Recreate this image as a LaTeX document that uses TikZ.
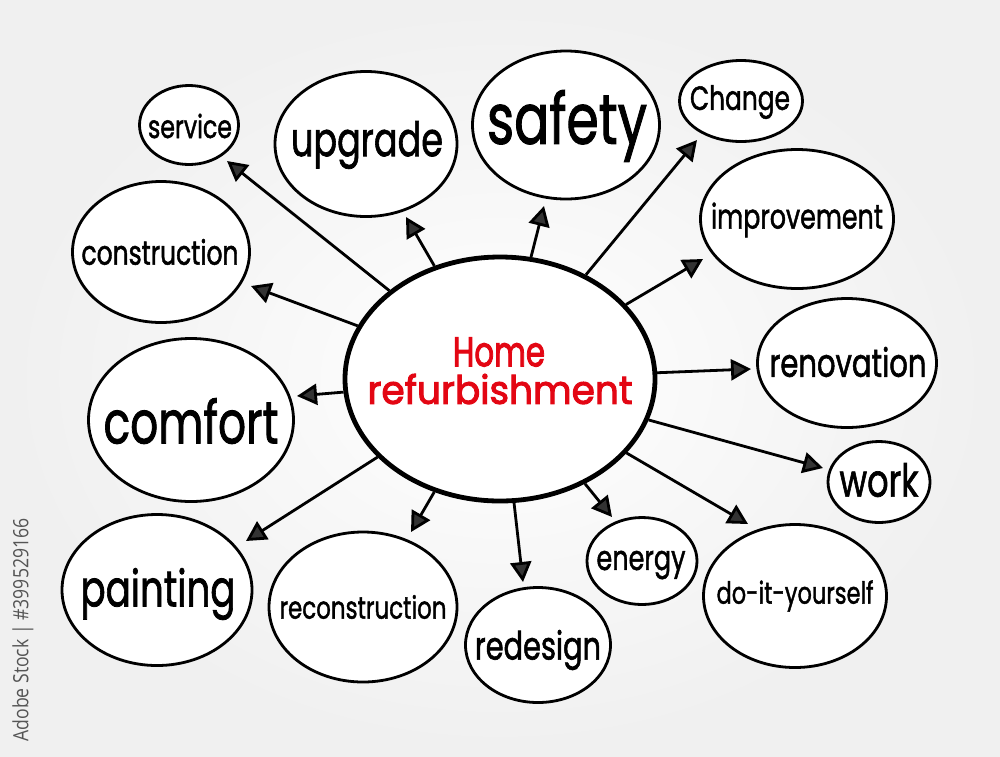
\documentclass[tikz,border=0pt]{standalone}
\usepackage{fontspec}
\usepackage{graphicx}
\setmainfont{Poppins}[FakeBold=1.6]
\newfontfamily\hubfont{Poppins}[FakeBold=2.6]
\newfontfamily\wmfont{Open Sans}
\usetikzlibrary{shapes.geometric,arrows.meta}
\newcommand{\fitw}[2]{\resizebox{#1pt}{!}{\scalebox{1}[1.35]{#2}}}
\newcommand{\fitwh}[3]{\resizebox{#1pt}{#2pt}{#3}}
\definecolor{hubred}{HTML}{E30613}
\definecolor{wmgray}{HTML}{555555}
\begin{document}
\begin{tikzpicture}[x=1pt,y=-1pt,
  bub/.style={ellipse, draw=black, line width=2.8pt, fill=white, inner sep=0pt},
  hub/.style={ellipse, draw=black, line width=4.8pt, fill=white, inner sep=0pt},
  word/.style={inner sep=0pt, text=black, anchor=center},
  hubword/.style={inner sep=0pt, text=hubred, anchor=center, font=\hubfont},
  link/.style={line width=2.8pt, draw=black, -{Triangle[length=20pt,width=21pt,fill=black!80]}}
]
\useasboundingbox (0,0) rectangle (1000,756);
\shade[inner color=white, outer color=black!6] (0,0) rectangle (1000,756);

% hub
\node[hub, minimum width=310pt, minimum height=244pt] (hub) at (500,379) {};
\node[hubword] (hubHome) at (499,352) {\fitwh{92}{29}{Home}};
\node[hubword] (hubRefurb) at (500,389) {\fitwh{265}{30}{refurbishment}};

% satellite bubbles
\node[bub, minimum width=99pt,  minimum height=79pt]  (service) at (189,125) {};
\node[bub, minimum width=182pt, minimum height=145pt] (upgrade) at (366,144) {};
\node[bub, minimum width=187pt, minimum height=148pt] (safety) at (566,125) {};
\node[bub, minimum width=123pt, minimum height=81pt]  (change) at (741,101) {};
\node[bub, minimum width=193pt, minimum height=139pt] (improvement) at (797,219) {};
\node[bub, minimum width=177pt, minimum height=141pt] (construction) at (161,252) {};
\node[bub, minimum width=179pt, minimum height=129pt] (renovation) at (847,363) {};
\node[bub, minimum width=205pt, minimum height=163pt] (comfort) at (191,420) {};
\node[bub, minimum width=102pt, minimum height=81pt]  (work) at (879,482) {};
\node[bub, minimum width=190pt, minimum height=151pt] (painting) at (157,590) {};
\node[bub, minimum width=188pt, minimum height=150pt] (reconstruction) at (363,607) {};
\node[bub, minimum width=145pt, minimum height=115pt] (redesign) at (538,645) {};
\node[bub, minimum width=110pt, minimum height=87pt]  (energy) at (642,561) {};
\node[bub, minimum width=183pt, minimum height=143pt] (diy) at (795,596) {};

% words
\node[word] (wService) at (190,126) {\fitw{84}{service}};
\node[word] (wUpgrade) at (367,145) {\fitw{152}{upgrade}};
\node[word] (wSafety) at (567,126) {\fitw{160}{safety}};
\node[word] (wChange) at (740,102) {\fitw{100}{Change}};
\node[word] (wImprovement) at (797,220) {\fitw{172}{improvement}};
\node[word] (wConstruction) at (160,252) {\fitw{157}{construction}};
\node[word] (wRenovation) at (848,362) {\fitw{157}{renovation}};
\node[word] (wComfort) at (191,421) {\fitw{175}{comfort}};
\node[word] (wWork) at (879,480) {\fitw{79}{work}};
\node[word] (wPainting) at (158,594) {\fitw{155}{painting}};
\node[word] (wReconstruction) at (363,607) {\fitw{167}{reconstruction}};
\node[word] (wRedesign) at (538,650) {\fitw{126}{redesign}};
\node[word] (wEnergy) at (641,565) {\fitw{89}{energy}};
\node[word] (wDiy) at (795,596) {\fitw{157}{do-it-yourself}};

% arrow tips (free ends)
\coordinate (tService) at (227,161);
\coordinate (tConstruction) at (251,286);
\coordinate (tComfort) at (297,396);
\coordinate (tPainting) at (246,541);
\coordinate (tReconstruction) at (411,532);
\coordinate (tRedesign) at (523,582);
\coordinate (tEnergy) at (612,517);
\coordinate (tDiy) at (748,524);
\coordinate (tWork) at (823,468);
\coordinate (tRenovation) at (751,369);
\coordinate (tImprovement) at (703,259);
\coordinate (tChange) at (697,140);
\coordinate (tSafety) at (544,206);
\coordinate (tUpgrade) at (406,217);

\foreach \t in {tService,tConstruction,tComfort,tPainting,tReconstruction,tRedesign,tEnergy,tDiy,tWork,tRenovation,tImprovement,tChange,tSafety,tUpgrade}
  \draw[link] (hub) -- (\t);

% watermark text
\node[rotate=90, text=wmgray, inner sep=0pt] (wm) at (23,630) {\wmfont\fitwh{223}{16}{Adobe Stock | \#399529166}};
\end{tikzpicture}
\end{document}
